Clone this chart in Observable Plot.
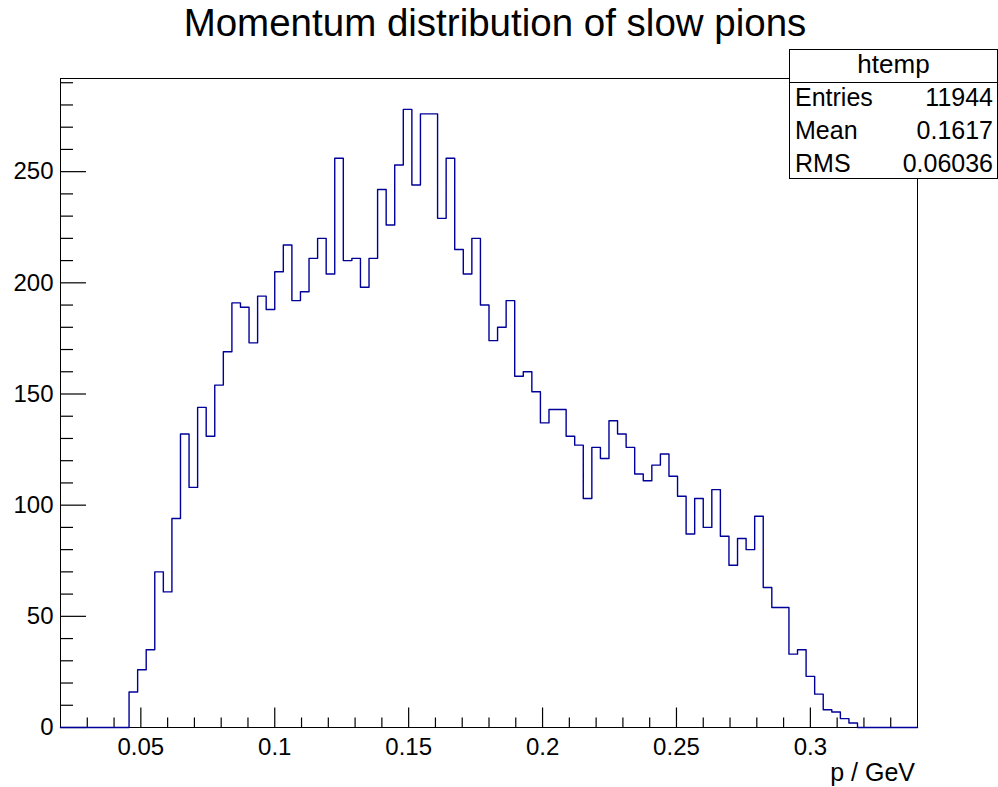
<!DOCTYPE html>
<html>
<head>
<meta charset="utf-8">
<script src="https://cdn.jsdelivr.net/npm/d3@7"></script>
<script src="https://cdn.jsdelivr.net/npm/@observablehq/plot@0.6"></script>
<style>
  html, body { margin: 0; padding: 0; background: white; }
  #wrap { position: relative; width: 998px; height: 787px; font-family: "Liberation Sans", Arial, Helvetica, sans-serif; color: black; }
  #chart { position: absolute; left: 0; top: 0; }
  .t { position: absolute; line-height: 1; white-space: nowrap; }
  #title { left: 0; width: 990px; text-align: center; top: 4px; font-size: 38.5px; }
  #stats { position: absolute; left: 789px; top: 49px; width: 207px; height: 128px; border: 1px solid black; background: white; }
  #stats .hdr { position: absolute; left: 0; top: 0; width: 207px; height: 32px; border-bottom: 1px solid black; }
  #xlabel { right: 83px; top: 760px; font-size: 25px; }
</style>
</head>
<body>
<div id="wrap">
  <div id="chart"></div>
  <div id="title" class="t">Momentum distribution of slow pions</div>
  <div id="stats"></div>
  <div id="xlabel" class="t">p / GeV</div>
</div>
<script>
// Histogram "htemp": 100 bins of width 0.0032 GeV starting at 0.02 GeV
const binLow = 0.02;
const binWidth = 0.0032;
const counts = [
  0, 0, 0, 0, 0, 0, 0, 0,
  16, 26, 35, 70, 61, 94, 132, 108, 144, 131,
  154, 169, 191, 189, 173, 194, 188, 205, 217, 192,
  196, 211, 220, 204, 256, 210, 211, 198, 211, 242,
  226, 253, 278, 244, 276, 276, 229, 256, 215, 204,
  220, 190, 174, 180, 192, 158, 160, 151, 137, 143,
  143, 131, 127, 103, 126, 121, 138, 132, 126, 114,
  111, 118, 123, 113, 104, 87, 103, 90, 107, 86,
  73, 85, 80, 95, 63, 54, 54, 33, 35, 23,
  15, 8, 7, 4, 2,
  0, 0, 0, 0, 0, 0, 0
];

// Axis ticks and their labels
const xTicks = [0.05, 0.1, 0.15, 0.2, 0.25, 0.3];
const xTickLabels = ["0.05", "0.1", "0.15", "0.2", "0.25", "0.3"];
const yTicks = [0, 50, 100, 150, 200, 250];
const yTickLabels = ["0", "50", "100", "150", "200", "250"];

// Statistics box
const histName = "htemp";
const statNames = ["Entries", "Mean", "RMS"];
const statValues = [String(d3.sum(counts)), "0.1617", "0.06036"];

const W = 998, H = 787;
const mL = 60, mR = 81, mT = 78, mB = 60;
const plotW = W - mL - mR, plotH = H - mT - mB;

const xMin = binLow, xMax = binLow + counts.length * binWidth;
const yTop = d3.max(counts) * 1.05;

// Outline of the histogram: each bin contributes its left and right edge at its height
const outline = counts.flatMap((c, i) => [
  {x: binLow + i * binWidth, y: c},
  {x: binLow + (i + 1) * binWidth, y: c}
]);

const xMinor = d3.range(3, 34).map(k => k / 100).filter(v => !xTicks.some(t => Math.abs(t - v) < 1e-9));
const yMinor = d3.range(10, 300, 10).filter(v => v % 50 !== 0);

const chart = Plot.plot({
  width: W,
  height: H,
  marginLeft: mL, marginRight: mR, marginTop: mT, marginBottom: mB,
  x: {domain: [xMin, xMax], axis: null},
  y: {domain: [0, yTop], axis: null},
  style: {fontFamily: "'Liberation Sans', Arial, Helvetica, sans-serif", fontSize: "24px", background: "white", overflow: "visible", color: "black"},
  marks: [
    Plot.frame({stroke: "black", strokeWidth: 1}),
    Plot.tickX(xTicks, {x: d => d, stroke: "black", strokeWidth: 1.2, insetTop: plotH - 19.5}),
    Plot.tickX(xMinor, {x: d => d, stroke: "black", strokeWidth: 1.2, insetTop: plotH - 9.5}),
    Plot.tickY(yTicks, {y: d => d, stroke: "black", strokeWidth: 1.2, insetRight: plotW - 26}),
    Plot.tickY(yMinor, {y: d => d, stroke: "black", strokeWidth: 1.2, insetRight: plotW - 13}),
    Plot.line(outline, {x: "x", y: "y", stroke: "#000099", strokeWidth: 1.4}),
    Plot.text(xTicks, {x: d => d, text: (d, i) => xTickLabels[i], frameAnchor: "bottom", lineAnchor: "top", dy: 10.5, fontSize: 24, fill: "black"}),
    Plot.text(yTicks, {y: d => d, text: (d, i) => yTickLabels[i], frameAnchor: "left", textAnchor: "end", dx: -7, fontSize: 24, fill: "black"})
  ]
});
document.getElementById("chart").appendChild(chart);

// Statistics box contents
const stats = document.getElementById("stats");
const hdr = document.createElement("div");
hdr.className = "hdr";
stats.appendChild(hdr);
const name = document.createElement("div");
name.className = "t";
name.style.cssText = "left:0;width:207px;text-align:center;top:1px;font-size:26px;";
name.textContent = histName;
stats.appendChild(name);
statNames.forEach((s, i) => {
  const top = 35 + i * 33;
  const l = document.createElement("div");
  l.className = "t";
  l.style.cssText = `left:5px;top:${top}px;font-size:25px;`;
  l.textContent = s;
  stats.appendChild(l);
  const v = document.createElement("div");
  v.className = "t";
  v.style.cssText = `right:4px;top:${top}px;font-size:25px;`;
  v.textContent = statValues[i];
  stats.appendChild(v);
});
</script>
</body>
</html>
